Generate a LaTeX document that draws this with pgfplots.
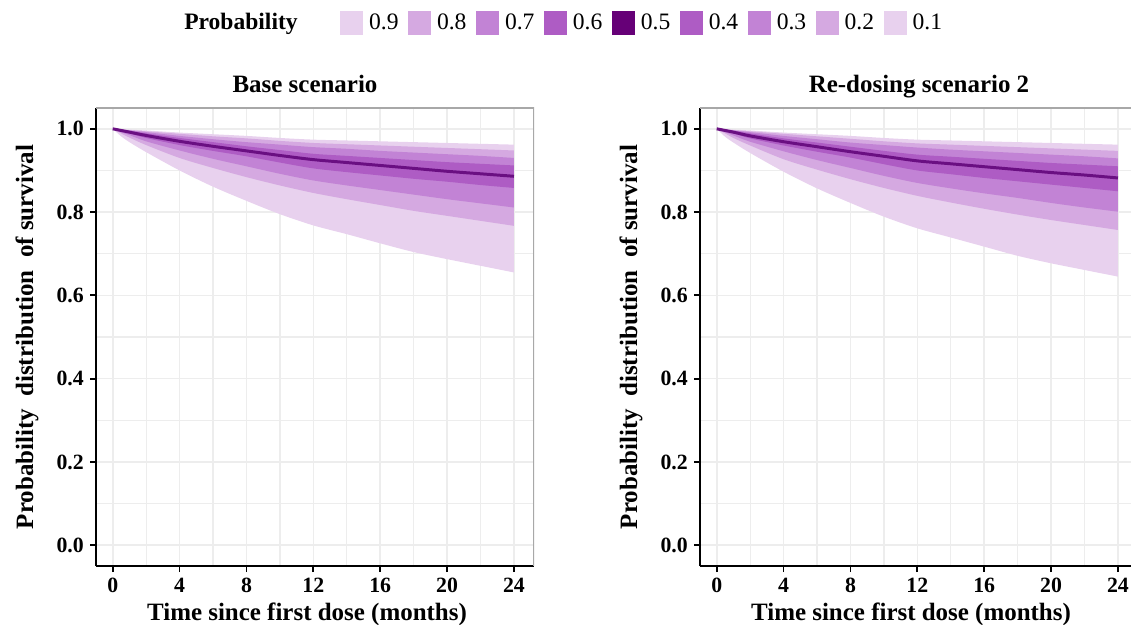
\documentclass[border=0pt]{standalone}
\usepackage{fontspec}
\setmainfont{Liberation Serif}
\usepackage{pgfplots}
\usepackage{pgfplotstable}
\pgfplotsset{compat=1.18}
\usepgfplotslibrary{fillbetween}

\definecolor{q1c}{HTML}{E8D1EE}
\definecolor{q2c}{HTML}{D5A9E1}
\definecolor{q3c}{HTML}{C283D5}
\definecolor{q4c}{HTML}{AE5CC4}
\definecolor{medc}{HTML}{660077}
\definecolor{linec}{HTML}{6A0F82}
\definecolor{gridc}{HTML}{EDEDED}
\definecolor{framec}{HTML}{A8A8A8}

% quantiles of survival, base scenario
\pgfplotstableread{
t    q1    q2    q3    q4    q5    q6    q7    q8    q9
0    1.000 1.000 1.000 1.000 1.000 1.000 1.000 1.000 1.000
0.5  0.982 0.989 0.992 0.994 0.996 0.997 0.998 0.999 0.999
1    0.968 0.979 0.985 0.989 0.992 0.995 0.996 0.997 0.998
2    0.944 0.961 0.970 0.978 0.984 0.989 0.992 0.994 0.996
4    0.900 0.930 0.948 0.961 0.970 0.978 0.983 0.988 0.991
6    0.861 0.906 0.928 0.947 0.958 0.968 0.975 0.982 0.987
8    0.827 0.884 0.910 0.934 0.947 0.958 0.968 0.977 0.983
10   0.795 0.864 0.892 0.919 0.936 0.949 0.962 0.971 0.978
12   0.768 0.846 0.876 0.905 0.926 0.940 0.956 0.966 0.974
14   0.747 0.831 0.864 0.896 0.919 0.935 0.952 0.963 0.972
16   0.725 0.817 0.853 0.888 0.912 0.930 0.947 0.960 0.970
18   0.704 0.803 0.842 0.880 0.905 0.925 0.943 0.957 0.968
20   0.687 0.791 0.831 0.873 0.898 0.920 0.939 0.954 0.966
22   0.671 0.779 0.821 0.865 0.892 0.916 0.935 0.951 0.964
24   0.655 0.767 0.811 0.858 0.886 0.912 0.930 0.948 0.962
}\basetab

% re-dosing scenario 2
\pgfplotstableread{
t    q1    q2    q3    q4    q5    q6    q7    q8    q9
0    1.000 1.000 1.000 1.000 1.000 1.000 1.000 1.000 1.000
0.5  0.981 0.989 0.992 0.994 0.996 0.997 0.998 0.999 0.999
1    0.967 0.978 0.984 0.989 0.992 0.995 0.996 0.997 0.998
2    0.942 0.960 0.969 0.977 0.983 0.989 0.992 0.994 0.996
4    0.897 0.927 0.946 0.960 0.969 0.977 0.983 0.988 0.991
6    0.857 0.902 0.925 0.945 0.957 0.967 0.975 0.982 0.987
8    0.822 0.879 0.906 0.931 0.945 0.957 0.967 0.976 0.983
10   0.789 0.858 0.887 0.915 0.934 0.947 0.961 0.970 0.978
12   0.761 0.839 0.870 0.900 0.923 0.938 0.955 0.965 0.974
14   0.739 0.823 0.857 0.891 0.916 0.933 0.950 0.962 0.972
16   0.717 0.808 0.845 0.882 0.909 0.928 0.946 0.959 0.970
18   0.695 0.794 0.834 0.874 0.902 0.923 0.942 0.956 0.968
20   0.677 0.781 0.822 0.866 0.895 0.918 0.938 0.953 0.966
22   0.661 0.769 0.811 0.858 0.889 0.914 0.934 0.950 0.964
24   0.645 0.757 0.801 0.850 0.882 0.910 0.929 0.947 0.962
}\redosetab

\pgfplotsset{
  panel/.style={
    width=8.76cm, height=9.16cm, scale only axis,
    xmin=-1, xmax=25.2, ymin=-0.05, ymax=1.05,
    xtick={0,4,8,12,16,20,24}, minor xtick={2,6,10,14,18,22},
    ytick={0,0.2,0.4,0.6,0.8,1}, minor ytick={0.1,0.3,0.5,0.7,0.9},
    grid=both,
    major grid style={gridc, line width=0.9pt},
    minor grid style={gridc, line width=0.7pt},
    axis x line*=bottom, axis y line*=left,
    axis line style={-, black, line width=1.3pt},
    tick align=outside, major tick length=0.12cm, minor tick length=0pt,
    tick style={black, line width=1pt},
    /pgf/number format/assume math mode=true,
    yticklabel style={/pgf/number format/.cd, fixed, fixed zerofill, precision=1},
    tick label style={font=\fontsize{12.4}{14}\selectfont\bfseries},
    label style={font=\fontsize{14.2}{17}\selectfont\bfseries},
    xlabel style={xshift=-0.16cm, yshift=0.05cm},
    ylabel style={yshift=0.12cm},
    title style={font=\fontsize{14.2}{17}\selectfont\bfseries,
      at={(0.5,1)}, anchor=base, yshift=0.09cm},
    xlabel={Time since first dose (months)},
    ylabel={Probability~~distribution~~of survival},
  },
  bands/.code={
    \addplot[name path=a1, draw=none, smooth, forget plot] table[x=t, y=q1] {#1};
    \addplot[name path=a2, draw=none, smooth, forget plot] table[x=t, y=q2] {#1};
    \addplot[name path=a3, draw=none, smooth, forget plot] table[x=t, y=q3] {#1};
    \addplot[name path=a4, draw=none, smooth, forget plot] table[x=t, y=q4] {#1};
    \addplot[name path=a6, draw=none, smooth, forget plot] table[x=t, y=q6] {#1};
    \addplot[name path=a7, draw=none, smooth, forget plot] table[x=t, y=q7] {#1};
    \addplot[name path=a8, draw=none, smooth, forget plot] table[x=t, y=q8] {#1};
    \addplot[name path=a9, draw=none, smooth, forget plot] table[x=t, y=q9] {#1};
  },
}

\begin{document}
\begin{tikzpicture}
\begin{axis}[panel, at={(1.92cm,-11.32cm)}, anchor=south west,
  title={Base scenario}, title style={xshift=-0.2cm},
  legend columns=10,
  legend image code/.code={\fill[#1, draw=none] (0cm,-0.24cm) rectangle (0.46cm,0.24cm);},
  legend style={at={(0.187,1.186)}, anchor=west, draw=none, fill=none,
    inner sep=0pt, nodes={inner sep=0pt},
    font=\fontsize{13.4}{16}\selectfont,
    /tikz/every odd column/.append style={column sep=0.12cm},
    /tikz/every even column/.append style={column sep=0.19cm}},
]
\addlegendimage{empty legend}\addlegendentry{\textbf{Probability}\rule{0.66cm}{0pt}}
\addlegendimage{fill=q1c}\addlegendentry{0.9}
\addlegendimage{fill=q2c}\addlegendentry{0.8}
\addlegendimage{fill=q3c}\addlegendentry{0.7}
\addlegendimage{fill=q4c}\addlegendentry{0.6}
\addlegendimage{fill=medc}\addlegendentry{0.5}
\addlegendimage{fill=q4c}\addlegendentry{0.4}
\addlegendimage{fill=q3c}\addlegendentry{0.3}
\addlegendimage{fill=q2c}\addlegendentry{0.2}
\addlegendimage{fill=q1c}\addlegendentry{0.1}
\pgfplotsset{bands=\basetab}
\addplot[q1c, forget plot] fill between[of=a1 and a9];
\addplot[q2c, forget plot] fill between[of=a2 and a8];
\addplot[q3c, forget plot] fill between[of=a3 and a7];
\addplot[q4c, forget plot] fill between[of=a4 and a6];
\addplot[linec, line width=1.7pt, smooth, forget plot] table[x=t, y=q5] {\basetab};
\draw[framec, line width=1.1pt] (rel axis cs:0,1) -- (rel axis cs:1,1) -- (rel axis cs:1,0);
\end{axis}

\begin{axis}[panel, at={(14.0cm,-11.32cm)}, anchor=south west,
  title={Re-dosing scenario 2}]
\pgfplotsset{bands=\redosetab}
\addplot[q1c] fill between[of=a1 and a9];
\addplot[q2c] fill between[of=a2 and a8];
\addplot[q3c] fill between[of=a3 and a7];
\addplot[q4c] fill between[of=a4 and a6];
\addplot[linec, line width=1.7pt, smooth] table[x=t, y=q5] {\redosetab};
\draw[framec, line width=1.1pt] (rel axis cs:0,1) -- (rel axis cs:1,1) -- (rel axis cs:1,0);
\end{axis}

\pgfresetboundingbox
\path[use as bounding box] (0,0) rectangle (22.62,-12.5);
\end{tikzpicture}
\end{document}
